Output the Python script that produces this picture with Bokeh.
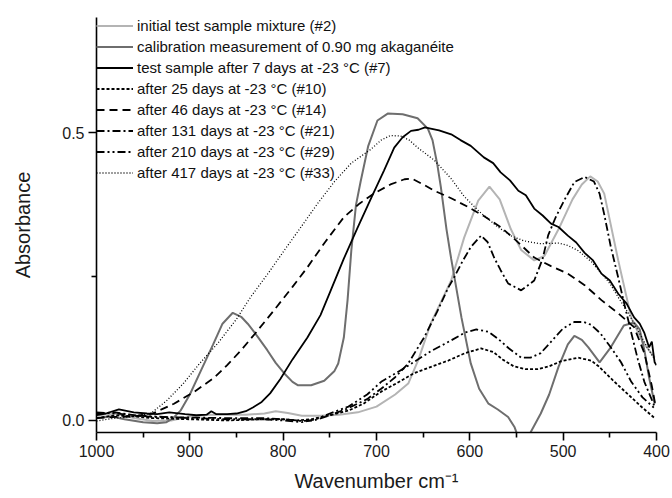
from bokeh.plotting import figure
from bokeh.models import Range1d, FixedTicker, PrintfTickFormatter
from bokeh.embed import file_html
from bokeh.resources import INLINE

# ---- data ----
labels = [
    "initial test sample mixture (#2)",
    "calibration measurement of 0.90 mg akaganéite",
    "test sample after 7 days at -23 °C (#7)",
    "after 25 days at -23 °C (#10)",
    "after 46 days at -23 °C (#14)",
    "after 131 days at -23 °C (#21)",
    "after 210 days at -23 °C (#29)",
    "after 417 days at -23 °C (#33)",
]

x_s2 = [1000, 980, 960, 940, 920, 900, 880, 860, 840, 820, 808, 795, 780, 760, 740, 720, 700, 680, 666, 655,
        642, 630, 620, 606, 591, 579, 568, 556, 545, 531, 520, 505, 490, 480, 471, 463, 456, 441, 427, 415, 402]
y_s2 = [0.009, 0.012, 0.004, -0.001, 0.0, 0.007, 0.010, 0.010, 0.010, 0.012, 0.016, 0.013, 0.008, 0.008, 0.010,
        0.014, 0.024, 0.045, 0.064, 0.106, 0.168, 0.209, 0.243, 0.318, 0.382, 0.406, 0.384, 0.332, 0.296, 0.278,
        0.286, 0.332, 0.384, 0.410, 0.424, 0.415, 0.394, 0.278, 0.178, 0.137, 0.109]

x_cal = [1000, 985, 970, 950, 935, 925, 918, 910, 900, 888, 875, 865, 854, 845, 838, 828, 817, 808, 799, 790,
         784, 770, 756, 745, 741, 735, 731, 727, 722, 717, 709, 699, 688, 672, 656, 645, 640, 635, 631, 625,
         620, 609, 599, 590, 580, 570, 559, 552, 548, 538, 524, 515, 505, 495, 488, 480, 473, 461, 449, 435,
         424, 418, 413, 408, 402]
y_cal = [0.004, 0.007, 0.002, -0.003, -0.005, -0.003, 0.004, 0.017, 0.045, 0.087, 0.132, 0.168, 0.187, 0.180,
         0.168, 0.147, 0.122, 0.100, 0.082, 0.067, 0.061, 0.061, 0.069, 0.086, 0.099, 0.144, 0.209, 0.295, 0.374,
         0.415, 0.476, 0.521, 0.533, 0.532, 0.525, 0.507, 0.487, 0.446, 0.405, 0.332, 0.281, 0.179, 0.099, 0.055,
         0.029, 0.019, 0.006, -0.012, -0.03, -0.03, 0.012, 0.045, 0.093, 0.132, 0.147, 0.140, 0.127, 0.101,
         0.127, 0.165, 0.170, 0.158, 0.122, 0.075, 0.029]

x_s7 = [1000, 990, 976, 960, 946, 935, 922, 905, 893, 882, 877, 872, 860, 850, 840, 832, 823, 814, 803, 790,
        774, 760, 749, 735, 720, 705, 692, 681, 672, 663, 655, 648, 642, 633, 620, 610, 599, 585, 575, 567,
        557, 548, 540, 531, 522, 513, 505, 495, 486, 477, 468, 459, 450, 441, 432, 424, 418, 413, 408, 405,
        402, 400]
y_s7 = [0.009, 0.012, 0.019, 0.014, 0.012, 0.011, 0.014, 0.011, 0.009, 0.010, 0.016, 0.011, 0.011, 0.012,
        0.016, 0.023, 0.032, 0.047, 0.072, 0.106, 0.144, 0.183, 0.226, 0.281, 0.336, 0.389, 0.434, 0.474,
        0.492, 0.503, 0.505, 0.509, 0.507, 0.504, 0.497, 0.487, 0.477, 0.457, 0.447, 0.431, 0.417, 0.399,
        0.391, 0.368, 0.356, 0.342, 0.336, 0.321, 0.309, 0.291, 0.278, 0.255, 0.243, 0.220, 0.203, 0.179,
        0.168, 0.152, 0.127, 0.137, 0.101, 0.096]

x_s10 = [1000, 980, 960, 940, 900, 860, 820, 800, 785, 770, 750, 730, 714, 695, 678, 660, 640, 623, 605, 588,
         575, 565, 553, 540, 527, 515, 502, 484, 470, 462, 445, 427, 415, 402]
y_s10 = [0.004, 0.009, 0.007, 0.004, 0.002, 0.0, 0.002, 0.002, 0.0, 0.002, 0.009, 0.017, 0.029, 0.050, 0.065,
         0.082, 0.094, 0.104, 0.117, 0.125, 0.119, 0.106, 0.094, 0.089, 0.089, 0.094, 0.103, 0.109, 0.104,
         0.094, 0.067, 0.040, 0.022, 0.004]

x_s14 = [1000, 980, 960, 940, 917, 895, 874, 860, 845, 830, 810, 790, 774, 755, 735, 718, 703, 685, 670, 662,
         650, 638, 620, 602, 585, 567, 550, 531, 513, 495, 477, 459, 441, 424, 413, 405, 401]
y_s14 = [0.004, 0.006, 0.007, 0.012, 0.029, 0.050, 0.074, 0.096, 0.122, 0.151, 0.191, 0.232, 0.266, 0.310,
         0.353, 0.377, 0.394, 0.410, 0.419, 0.420, 0.410, 0.399, 0.386, 0.371, 0.355, 0.336, 0.312, 0.283,
         0.268, 0.255, 0.235, 0.209, 0.186, 0.162, 0.117, 0.060, 0.025]

x_s21 = [1000, 980, 960, 940, 900, 860, 820, 800, 780, 767, 750, 732, 710, 695, 680, 666, 649, 635, 623, 617,
         608, 599, 588, 581, 574, 567, 559, 545, 531, 522, 516, 508, 499, 488, 477, 467, 461, 456, 449, 441,
         434, 427, 420, 413, 402]
y_s21 = [0.012, 0.014, 0.009, 0.006, 0.005, 0.004, 0.004, 0.002, -0.001, 0.0, 0.009, 0.020, 0.037, 0.055,
         0.075, 0.099, 0.144, 0.189, 0.231, 0.248, 0.276, 0.301, 0.321, 0.310, 0.283, 0.261, 0.238, 0.226,
         0.243, 0.281, 0.322, 0.353, 0.382, 0.414, 0.423, 0.415, 0.394, 0.358, 0.302, 0.248, 0.199, 0.152,
         0.106, 0.067, 0.024]

x_s29 = [1000, 980, 960, 940, 900, 860, 820, 800, 780, 765, 750, 730, 710, 695, 670, 642, 620, 605, 593, 580,
         570, 558, 545, 535, 524, 510, 500, 488, 478, 470, 460, 449, 438, 427, 415, 402]
y_s29 = [0.014, 0.012, 0.009, 0.007, 0.004, 0.002, 0.002, 0.0, -0.003, 0.002, 0.012, 0.024, 0.045, 0.067,
         0.091, 0.120, 0.139, 0.153, 0.158, 0.154, 0.142, 0.125, 0.109, 0.109, 0.117, 0.142, 0.160, 0.171,
         0.171, 0.166, 0.151, 0.127, 0.101, 0.067, 0.040, 0.021]

x_s33 = [1000, 980, 960, 942, 925, 907, 890, 870, 850, 835, 815, 799, 780, 763, 745, 727, 706, 695, 685, 674,
         665, 656, 638, 620, 606, 590, 570, 555, 542, 525, 505, 495, 484, 470, 462, 450, 441, 430, 420, 410, 402]
y_s33 = [-0.001, 0.004, 0.007, 0.012, 0.034, 0.064, 0.098, 0.134, 0.176, 0.214, 0.258, 0.295, 0.338, 0.377,
         0.415, 0.447, 0.471, 0.487, 0.495, 0.494, 0.487, 0.474, 0.452, 0.420, 0.389, 0.363, 0.336, 0.320,
         0.312, 0.307, 0.308, 0.304, 0.295, 0.276, 0.261, 0.238, 0.214, 0.186, 0.157, 0.127, 0.106]

x_ticks = [1000, 900, 800, 700, 600, 500, 400]
x_minor = [950, 850, 750, 650, 550, 450]
y_ticks = [0.0, 0.5]
y_minor = [0.25]

FONT = "Liberation Sans"

p = figure(width=672, height=498, x_range=Range1d(1000, 400), y_range=Range1d(-0.021, 0.70),
           output_backend="svg", toolbar_location=None,
           min_border_left=96, min_border_right=16, min_border_top=17, min_border_bottom=66)
p.outline_line_color = None
p.xgrid.visible = False
p.ygrid.visible = False

series = [
    (x_s2, y_s2, "#b4b4b4", 2.0, "solid"),
    (x_cal, y_cal, "#6e6e6e", 2.0, "solid"),
    (x_s7, y_s7, "#000000", 1.8, "solid"),
    (x_s10, y_s10, "#000000", 1.8, "3 2"),
    (x_s14, y_s14, "#000000", 1.8, "8 5"),
    (x_s21, y_s21, "#000000", 1.8, "8 3 2 3"),
    (x_s29, y_s29, "#000000", 1.8, "8 3 2 3 2 3"),
    (x_s33, y_s33, "#000000", 1.3, "1 2"),
]
for (xs, ys, col, lw, dash), lab in zip(series, labels):
    p.line(xs, ys, line_color=col, line_width=lw, line_dash=dash, legend_label=lab)

for ax in (p.xaxis[0], p.yaxis[0]):
    ax.axis_line_color = "black"
    ax.axis_line_width = 1.6
    ax.major_tick_line_color = "black"
    ax.minor_tick_line_color = "black"
    ax.major_tick_line_width = 1.6
    ax.minor_tick_line_width = 1.6
    ax.major_tick_in = 0
    ax.major_tick_out = 8
    ax.minor_tick_in = 0
    ax.minor_tick_out = 5
    ax.major_label_text_font = FONT
    ax.major_label_text_font_size = "16px"
    ax.major_label_text_color = "#1a1a1a"
    ax.axis_label_text_font = FONT
    ax.axis_label_text_font_style = "normal"
    ax.axis_label_text_color = "#1a1a1a"

p.xaxis.ticker = FixedTicker(ticks=x_ticks, minor_ticks=x_minor)
p.yaxis.ticker = FixedTicker(ticks=y_ticks, minor_ticks=y_minor)
p.yaxis.formatter = PrintfTickFormatter(format="%.1f")
p.xaxis.axis_label = "Wavenumber cm\u207b\u00b9"
p.yaxis.axis_label = "Absorbance"
p.xaxis.axis_label_text_font_size = "20px"
p.yaxis.axis_label_text_font_size = "20px"
p.xaxis.axis_label_standoff = 10
p.yaxis.axis_label_standoff = 25
p.xaxis.major_label_standoff = 4
p.yaxis.major_label_standoff = 4

lg = p.legend[0]
lg.location = "top_left"
lg.margin = 0
lg.padding = 1
lg.spacing = 4
lg.border_line_color = None
lg.background_fill_alpha = 0
lg.glyph_width = 37
lg.glyph_height = 17
lg.label_height = 17
lg.label_standoff = 4
lg.label_text_font = FONT
lg.label_text_font_size = "15px"
lg.label_text_color = "#111111"

open("out.html", "w").write(file_html(p, INLINE))
